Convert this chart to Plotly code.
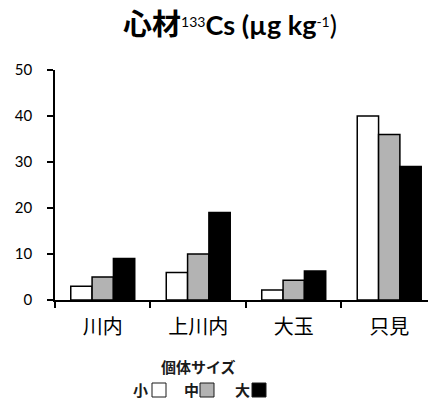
import plotly.graph_objects as go

# Heartwood 133Cs concentration by site and tree size class
sites = ["川内", "上川内", "大玉", "只見"]
size_names = ["小", "中", "大"]
size_colors = ["#ffffff", "#b3b3b3", "#000000"]
values_small = [3, 6, 2.2, 40]
values_medium = [5, 10, 4.3, 36]
values_large = [9, 19, 6.3, 29]
series_values = [values_small, values_medium, values_large]
y_ticks = [0, 10, 20, 30, 40, 50]

W, H = 428, 401
L, R, T, B = 55, 0, 70, 101
plot_w = W - L - R
plot_h = H - T - B

fig = go.Figure()
for name, color, vals in zip(size_names, size_colors, series_values):
    fig.add_trace(go.Bar(
        x=sites, y=vals, name=name,
        marker=dict(color=color, line=dict(color="black", width=1.5)),
        showlegend=False,
    ))

ax_font = dict(family="Lato, Liberation Sans, sans-serif", size=15, color="black")
cjk = "Noto Sans CJK JP"

fig.update_layout(
    width=W, height=H,
    margin=dict(l=L, r=R, t=T, b=B),
    paper_bgcolor="white", plot_bgcolor="white",
    barmode="group", bargap=0.33, bargroupgap=0,
    xaxis=dict(
        type="category", range=[-0.5, 3.406],
        showline=True, linecolor="black", linewidth=1.5,
        ticks="outside", tickson="boundaries", ticklen=6, tickcolor="black",
        tickwidth=1.5,
        tickfont=dict(family=cjk, size=20, color="black"),
        ticklabelstandoff=8,
        showgrid=False, zeroline=False,
    ),
    yaxis=dict(
        range=[0, 50], tickvals=y_ticks,
        showline=True, linecolor="black", linewidth=1.5,
        ticks="outside", ticklen=6, tickcolor="black", tickwidth=1.5,
        tickfont=ax_font, ticklabelstandoff=12,
        showgrid=False, zeroline=False,
    ),
)

# Title with superscripts
title_html = (
    f"<span style='font-family:{cjk};font-size:29px'><b>心材</b></span>"
    "<span style='font-size:20px'><sup>133</sup></span>"
    "<span style='font-size:27px'><b>Cs (µg kg</b></span>"
    "<span style='font-size:20px'><sup>-1</sup></span>"
    "<span style='font-size:27px'>)</span>"
)
fig.add_annotation(
    text=title_html, xref="paper", yref="paper",
    x=(230 - L) / plot_w, y=(300 - 22) / plot_h,
    xanchor="center", yanchor="middle", showarrow=False,
    font=dict(family="Lato", size=27, color="black"),
)


def px_x(px):
    return (px - L) / plot_w


def px_y(py):
    return (T + plot_h - py) / plot_h


# Custom legend: label followed by swatch
legend_font = dict(family=cjk, size=15, color="#1a1a1a")
fig.add_annotation(
    text="<b>個体サイズ</b>", xref="paper", yref="paper",
    x=px_x(198), y=px_y(366), xanchor="center", yanchor="middle",
    showarrow=False, font=legend_font,
)
label_x = [140, 191, 242]
box_x = [152, 200, 252]
for name, color, lx, bx in zip(size_names, size_colors, label_x, box_x):
    fig.add_annotation(
        text=f"<b>{name}</b>", xref="paper", yref="paper",
        x=px_x(lx), y=px_y(389), xanchor="center", yanchor="middle",
        showarrow=False, font=legend_font,
    )
    fig.add_shape(
        type="rect", xref="paper", yref="paper",
        x0=px_x(bx), x1=px_x(bx + 14), y0=px_y(397), y1=px_y(383),
        fillcolor=color, line=dict(color="#1a1a1a", width=1),
    )

fig.write_html("out.html")
